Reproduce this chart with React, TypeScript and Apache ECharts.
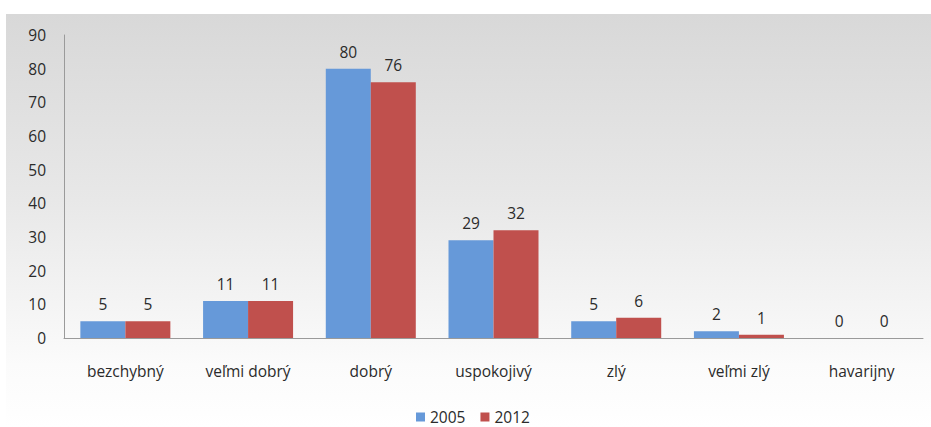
import React, { useEffect, useRef } from "react";
import * as echarts from "echarts";

const categories = ["bezchybný", "veľmi dobrý", "dobrý", "uspokojivý", "zlý", "veľmi zlý", "havarijny"];
const values2005 = [5, 11, 80, 29, 5, 2, 0];
const values2012 = [5, 11, 76, 32, 6, 1, 0];
const yTicks = { min: 0, max: 90, interval: 10 };

const FONT = "'Open Sans', 'DejaVu Sans', sans-serif";
const TEXT = "#2b2b2b";
const SIZE = 15.5;

export default function App() {
  const ref = useRef<HTMLDivElement>(null);

  useEffect(() => {
    if (!ref.current) return;
    const chart = echarts.init(ref.current, undefined, { renderer: "svg" });
    const label = {
      show: true,
      position: "top" as const,
      distance: 9,
      fontFamily: FONT,
      fontSize: SIZE,
      color: TEXT,
    };
    chart.setOption({
      animation: false,
      backgroundColor: "transparent",
      textStyle: { fontFamily: FONT },
      grid: { left: 64, right: 8, top: 35, bottom: 89, containLabel: false },
      legend: {
        top: 409,
        left: 416,
        padding: 0,
        itemWidth: 9,
        itemHeight: 9,
        itemGap: 15,
        icon: "rect",
        textStyle: { fontFamily: FONT, fontSize: SIZE, color: TEXT },
        data: ["2005", "2012"],
      },
      xAxis: {
        type: "category",
        data: categories,
        axisLine: { lineStyle: { color: "#9a9a9a", width: 1 } },
        axisTick: { show: false },
        axisLabel: { fontFamily: FONT, fontSize: SIZE, color: TEXT, margin: 25 },
      },
      yAxis: {
        type: "value",
        min: yTicks.min,
        max: yTicks.max,
        interval: yTicks.interval,
        axisLine: { show: true, lineStyle: { color: "#9a9a9a", width: 1 } },
        axisTick: { show: false },
        splitLine: { show: false },
        axisLabel: { fontFamily: FONT, fontSize: SIZE, color: TEXT, margin: 18 },
      },
      series: [
        {
          name: "2005",
          type: "bar",
          data: values2005,
          barWidth: 45,
          barGap: "0%",
          itemStyle: { color: "#6699d9" },
          label,
        },
        {
          name: "2012",
          type: "bar",
          data: values2012,
          barWidth: 45,
          barGap: "0%",
          itemStyle: { color: "#c0504d" },
          label,
        },
      ],
    });
    return () => chart.dispose();
  }, []);

  return (
    <div style={{ position: "fixed", left: 0, top: 0, width: 931, height: 427, background: "#ffffff" }}>
      <div
        style={{
          position: "absolute",
          left: 6,
          top: 14,
          width: 925,
          height: 413,
          background: "linear-gradient(to bottom, #d8d8d8 0%, #e8e8e8 45%, #fbfbfb 85%, #ffffff 100%)",
        }}
      />
      <div ref={ref} style={{ position: "absolute", left: 0, top: 0, width: 931, height: 427 }} />
    </div>
  );
}
